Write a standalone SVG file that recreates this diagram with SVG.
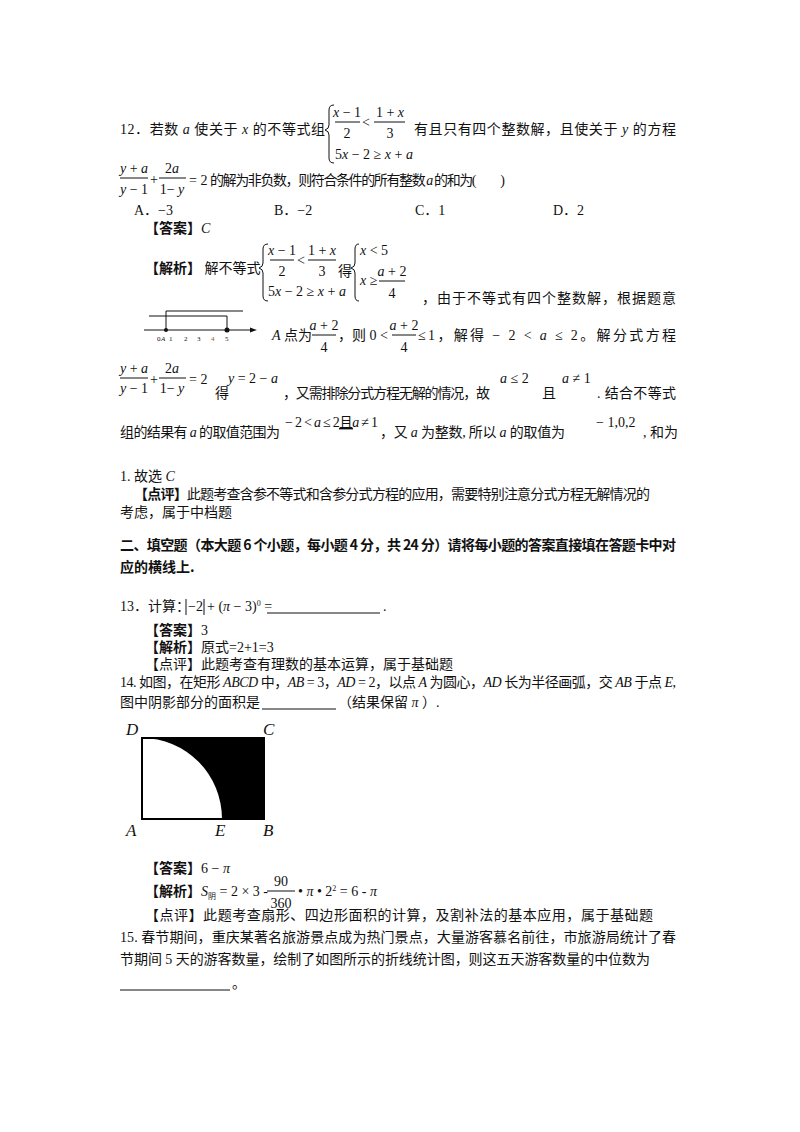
<svg xmlns="http://www.w3.org/2000/svg" width="800" height="1132" viewBox="0 0 800 1132">
<style>
text{font-family:"Liberation Serif","Noto Sans CJK SC",serif;font-size:14px;fill:#111}
.b{font-weight:bold;font-family:"Noto Sans CJK SC",sans-serif}
.i{font-style:italic}
.c{text-anchor:middle}
.t{font-size:7px}
.L{font-size:17px;font-style:italic}
line,path.l{stroke:#111;stroke-width:1;fill:none}
</style>
<rect width="800" height="1132" fill="#fff"/>
<g id="q12">
<text x="120" y="134" textLength="205" lengthAdjust="spacing">12．若数 <tspan class="i">a</tspan> 使关于 <tspan class="i">x</tspan> 的不等式组</text>
<path class="l" d="M334,105 Q329,105 329,110 V125 Q329,129 325,130 Q329,131 329,135 V158 Q329,163 334,163"/>
<text x="347" y="117" class="c"><tspan class="i">x</tspan> − 1</text><line x1="335" y1="122" x2="360" y2="122"/><text x="347" y="138" class="c">2</text>
<text x="362" y="127">&lt;</text>
<text x="390" y="117" class="c">1 + <tspan class="i">x</tspan></text><line x1="374" y1="122" x2="405" y2="122"/><text x="390" y="138" class="c">3</text>
<text x="335" y="159">5<tspan class="i">x</tspan> − 2 ≥ <tspan class="i">x</tspan> + <tspan class="i">a</tspan></text>
<text x="414" y="134" textLength="262" lengthAdjust="spacing">有且只有四个整数解，且使关于 <tspan class="i">y</tspan> 的方程</text>
<text x="134" y="173" class="c"><tspan class="i">y</tspan> + <tspan class="i">a</tspan></text><line x1="120" y1="178" x2="148" y2="178"/><text x="134" y="194" class="c"><tspan class="i">y</tspan> − 1</text>
<text x="150" y="184">+</text>
<text x="172" y="173" class="c">2<tspan class="i">a</tspan></text><line x1="159" y1="178" x2="186" y2="178"/><text x="172" y="194" class="c">1− <tspan class="i">y</tspan></text>
<text x="189" y="185">= 2</text>
<text x="210" y="185" textLength="295" lengthAdjust="spacing">的解为非负数，则符合条件的所有整数 <tspan class="i">a</tspan> 的和为(　　)</text>
<text x="134" y="215">A．−3</text><text x="274" y="215">B．−2</text><text x="415" y="215">C．1</text><text x="553" y="215">D．2</text>
</g>
<g id="ans12">
<text x="145" y="233"><tspan class="b">【答案】</tspan><tspan class="i">C</tspan></text>
<text x="145" y="273"><tspan class="b">【解析】</tspan> 解不等式</text>
<path class="l" d="M268,244 Q263,244 263,249 V263 Q263,267 259,268 Q263,269 263,273 V296 Q263,301 268,301"/>
<text x="282" y="255" class="c"><tspan class="i">x</tspan> − 1</text><line x1="270" y1="260" x2="294" y2="260"/><text x="282" y="276" class="c">2</text>
<text x="297" y="265">&lt;</text>
<text x="322" y="255" class="c">1 + <tspan class="i">x</tspan></text><line x1="308" y1="260" x2="336" y2="260"/><text x="322" y="276" class="c">3</text>
<text x="268" y="296">5<tspan class="i">x</tspan> − 2 ≥ <tspan class="i">x</tspan> + <tspan class="i">a</tspan></text>
<text x="338" y="276">得</text>
<path class="l" d="M359,244 Q355,244 355,249 V263 Q355,267 351,268 Q355,269 355,273 V296 Q355,301 359,301"/>
<text x="360" y="255"><tspan class="i">x</tspan> &lt; 5</text>
<text x="360" y="285"><tspan class="i">x</tspan> ≥</text>
<text x="392" y="276" class="c"><tspan class="i">a</tspan> + 2</text><line x1="379" y1="281" x2="405" y2="281"/><text x="392" y="298" class="c">4</text>
<text x="422" y="303" textLength="254" lengthAdjust="spacing">，由于不等式有四个整数解，根据题意</text>
<g id="numberline">
<line x1="144" y1="330" x2="252" y2="330"/><path d="M257,330 L250,327.5 L250,332.5 Z" fill="#111"/>
<path class="l" d="M166,330 V311 H243"/>
<path class="l" d="M149,316 H227 V330"/>
<circle cx="166" cy="330" r="2" fill="#111"/><circle cx="227" cy="330" r="2.5" fill="#111"/>
<text x="157" y="341" class="t">0</text><text x="161" y="341" class="t i">A</text><text x="169" y="341" class="t">1</text><text x="184" y="341" class="t">2</text><text x="197" y="341" class="t">3</text><text x="211" y="341" class="t" style="fill:#a0522d">4</text><text x="225" y="341" class="t">5</text>
</g>
<text x="272" y="340"><tspan class="i">A</tspan> 点为</text>
<text x="324" y="330" class="c"><tspan class="i">a</tspan> + 2</text><line x1="312" y1="335" x2="336" y2="335"/><text x="324" y="352" class="c">4</text>
<text x="338" y="340">，则 0 &lt;</text>
<text x="404" y="330" class="c"><tspan class="i">a</tspan> + 2</text><line x1="392" y1="335" x2="416" y2="335"/><text x="404" y="352" class="c">4</text>
<text x="418" y="340" textLength="258" lengthAdjust="spacing">≤1，解得 − 2 &lt; <tspan class="i">a</tspan> ≤ 2。解分式方程</text>
<text x="134" y="373" class="c"><tspan class="i">y</tspan> + <tspan class="i">a</tspan></text><line x1="120" y1="378" x2="148" y2="378"/><text x="134" y="393" class="c"><tspan class="i">y</tspan> − 1</text>
<text x="150" y="384">+</text>
<text x="172" y="373" class="c">2<tspan class="i">a</tspan></text><line x1="159" y1="378" x2="186" y2="378"/><text x="172" y="393" class="c">1− <tspan class="i">y</tspan></text>
<text x="189" y="384">= 2</text>
<text x="215" y="398">得</text><text x="228" y="383"><tspan class="i">y</tspan> = 2 − <tspan class="i">a</tspan></text>
<text x="283" y="398" textLength="207" lengthAdjust="spacing">，又需排除分式方程无解的情况，故</text>
<text x="500" y="383"><tspan class="i">a</tspan> ≤ 2</text><text x="542" y="398">且</text><text x="562" y="383"><tspan class="i">a</tspan> ≠ 1</text>
<text x="597" y="398" textLength="79" lengthAdjust="spacing">. 结合不等式</text>
<text x="120" y="437" textLength="160" lengthAdjust="spacing">组的结果有 <tspan class="i">a</tspan> 的取值范围为</text>
<text x="285" y="427" textLength="93" lengthAdjust="spacing">− 2 &lt; <tspan class="i">a</tspan> ≤ 2<tspan text-decoration="underline">且</tspan><tspan class="i">a</tspan> ≠ 1</text>
<text x="380" y="437" textLength="185" lengthAdjust="spacing">，又 <tspan class="i">a</tspan> 为整数, 所以 <tspan class="i">a</tspan> 的取值为</text>
<text x="596" y="427">− 1,0,2</text>
<text x="643" y="437">, 和为</text>
<text x="120" y="481">1. 故选 <tspan class="i">C</tspan></text>
<text x="134" y="499" textLength="516" lengthAdjust="spacing"><tspan class="b">【点评】</tspan>此题考查含参不等式和含参分式方程的应用，需要特别注意分式方程无解情况的</text>
<text x="120" y="517">考虑，属于中档题</text>
</g>
<g id="sec2">
<text x="120" y="550" class="b" textLength="556" lengthAdjust="spacing">二、填空题（本大题 6 个小题，每小题 4 分，共 24 分）请将每小题的答案直接填在答题卡中对</text>
<text x="120" y="572" class="b">应的横线上.</text>
<text x="120" y="611">13．计算：</text>
<line x1="186" y1="599" x2="186" y2="615"/><text x="188" y="611">−2</text><line x1="204" y1="599" x2="204" y2="615"/>
<text x="207" y="611">+ (<tspan class="i">π</tspan> − 3)<tspan dy="-5" style="font-size:8px">0</tspan><tspan dy="5"> =</tspan></text>
<line x1="267" y1="613" x2="380" y2="613"/><text x="383" y="611">.</text>
<text x="145" y="635"><tspan class="b">【答案】</tspan>3</text>
<text x="145" y="652"><tspan class="b">【解析】</tspan>原式=2+1=3</text>
<text x="145" y="669">【点评】此题考查有理数的基本运算，属于基础题</text>
<text x="120" y="687" textLength="556" lengthAdjust="spacing">14. 如图，在矩形 <tspan class="i">ABCD</tspan> 中，<tspan class="i">AB</tspan> = 3，<tspan class="i">AD</tspan> = 2，以点 <tspan class="i">A</tspan> 为圆心，<tspan class="i">AD</tspan> 长为半径画弧，交 <tspan class="i">AB</tspan> 于点 <tspan class="i">E</tspan>,</text>
<text x="120" y="707">图中阴影部分的面积是</text><line x1="262" y1="709" x2="336" y2="709"/><text x="338" y="707">（结果保留 <tspan class="i">π</tspan> ）.</text>
</g>
<g id="figure14">
<path d="M142,738 H264 V819 H222 A80,81 0 0 0 142,738 Z" fill="#000"/>
<rect x="142" y="738" width="122" height="81" fill="none" stroke="#000" stroke-width="2"/>
<text x="126" y="735" class="L">D</text><text x="263" y="735" class="L">C</text><text x="126" y="836" class="L">A</text><text x="215" y="836" class="L">E</text><text x="263" y="836" class="L">B</text>
</g>
<g id="ans14">
<text x="145" y="873"><tspan class="b">【答案】</tspan>6 − <tspan class="i">π</tspan></text>
<text x="145" y="896"><tspan class="b">【解析】</tspan><tspan class="i">S</tspan><tspan dy="3" style="font-size:8px">阴</tspan><tspan dy="-3"> = 2 × 3 -</tspan></text>
<text x="281" y="886" class="c">90</text><line x1="267" y1="891" x2="295" y2="891"/><text x="281" y="908" class="c">360</text>
<text x="298" y="896">• <tspan class="i">π</tspan> • 2<tspan dy="-5" style="font-size:8px">2</tspan><tspan dy="5"> = 6 - <tspan class="i">π</tspan></tspan></text>
<text x="145" y="920" textLength="508" lengthAdjust="spacing">【点评】此题考查扇形、四边形面积的计算，及割补法的基本应用，属于基础题</text>
<text x="120" y="942" textLength="556" lengthAdjust="spacing">15. 春节期间，重庆某著名旅游景点成为热门景点，大量游客慕名前往，市旅游局统计了春</text>
<text x="120" y="964" textLength="530" lengthAdjust="spacing">节期间 5 天的游客数量，绘制了如图所示的折线统计图，则这五天游客数量的中位数为</text>
<line x1="120" y1="990" x2="230" y2="990"/><text x="232" y="988">。</text>
</g>
</svg>
